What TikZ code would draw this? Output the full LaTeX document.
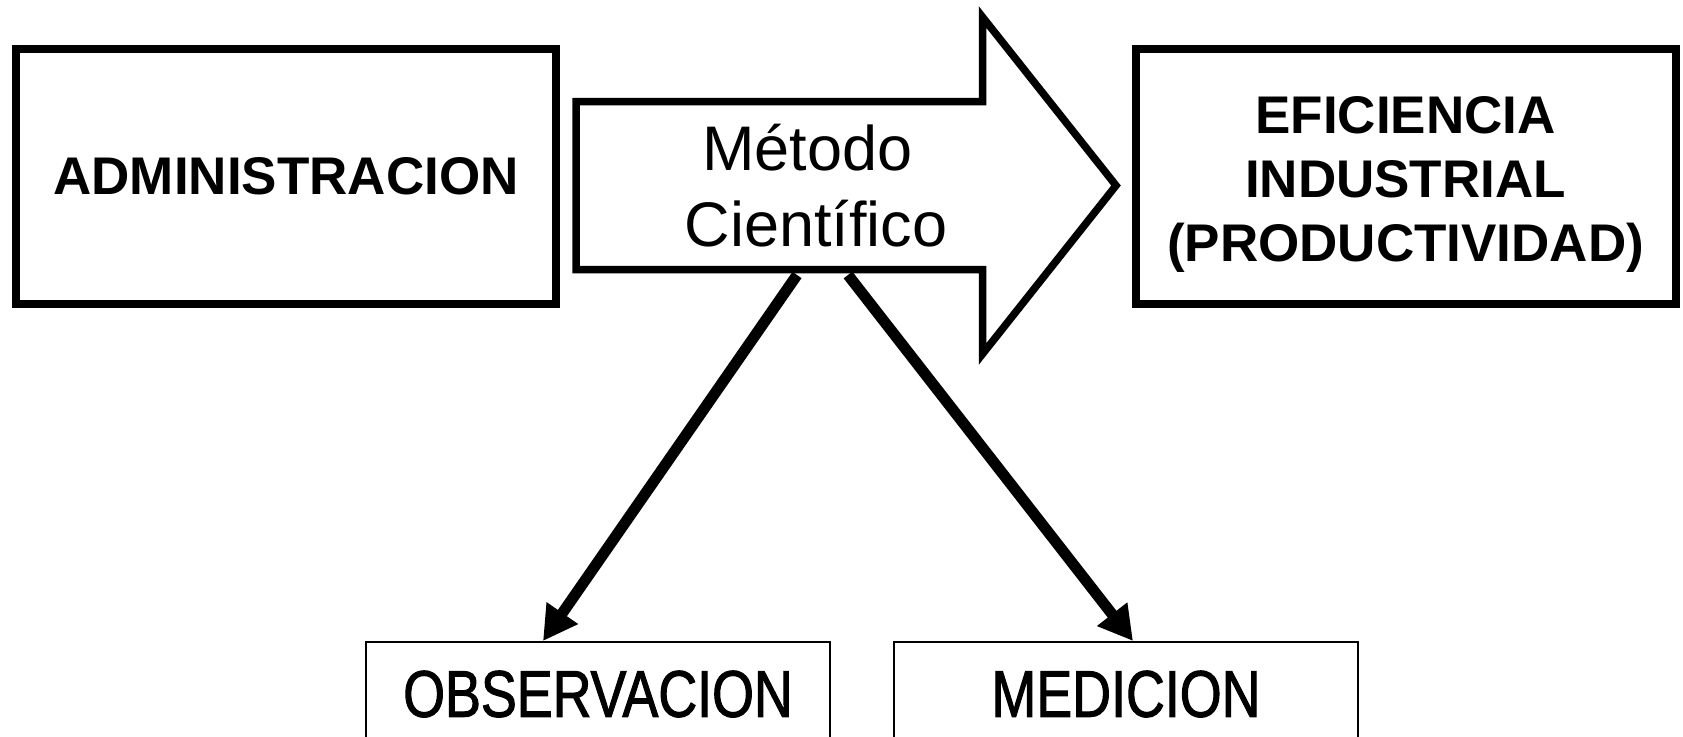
\documentclass[tikz,border=0pt]{standalone}
\usepackage{fontspec}
\setmainfont{Liberation Sans}
\newfontfamily\narrowfont[FakeStretch=0.815, FakeBold=1.5]{Liberation Sans}
\usetikzlibrary{calc,arrows.meta}
\tikzset{
	bigbox/.style={draw, line width=8pt, minimum width=540pt, minimum height=255pt, inner sep=0pt, align=center, font=\fontsize{53}{64}\selectfont\bfseries},
	smallbox/.style={draw, line width=1.5pt, minimum width=464pt, anchor=north, inner xsep=0pt, inner ysep=27pt, text height=48pt, text depth=120pt, font=\narrowfont\fontsize{66}{79}\selectfont},
	link/.style={line width=11pt, -{Triangle[length=34pt, width=36pt]}}
}

\begin{document}
\begin{tikzpicture}[x=1pt, y=-1pt]
			%%%%% START %%%%%
			\useasboundingbox (0, 0) rectangle (1683, 736);
			\clip (0, 0) rectangle (1683, 736);
			
			\node[bigbox] (admin) at (286, 176.5) {ADMINISTRACION};
			\node[bigbox] (eficiencia) at (1405.5, 176.5) {\rule{0pt}{53pt}EFICIENCIA\\INDUSTRIAL\\(PRODUCTIVIDAD)};
			
			\draw[line width=7.5pt, line join=miter] (576, 101.5) -- (982.5, 101.5) -- (982.5, 17) -- (1116, 185.5) -- (982.5, 354) -- (982.5, 269.5) -- (576, 269.5) -- cycle;
			\node[font=\fontsize{63}{76}\selectfont, align=center] (metodo) at (816, 186) {Método\kern17pt\\Científico};
			
			\coordinate (m1) at (797, 275);
			\coordinate (m2) at (848, 275);
			
			\node[smallbox] (obs) at (598, 641) {OBSERVACION};
			\node[smallbox] (med) at (1126, 641) {MEDICION};
			
			\draw[link] (m1) -- ($(obs.north)+(-55, 0)$);
			\draw[link] (m2) -- ($(med.north)+(7, 0)$);
			
			%%%%% END %%%%%
\end{tikzpicture}
\end{document}
